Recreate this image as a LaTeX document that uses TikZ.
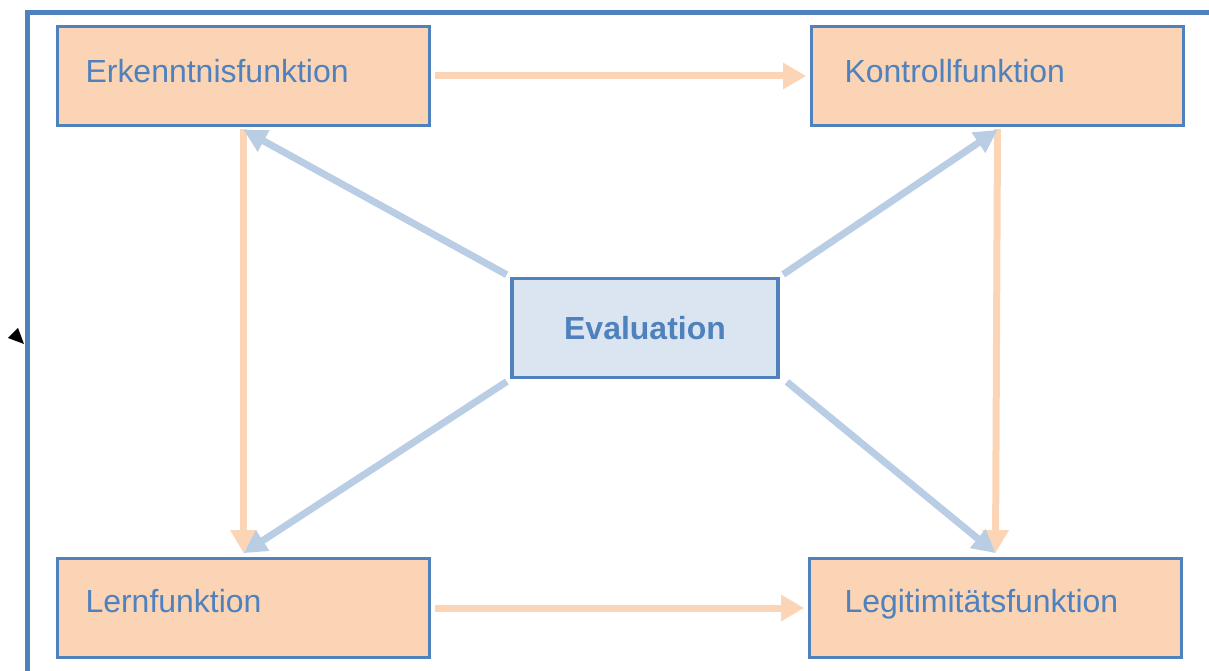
\documentclass[tikz,border=0pt]{standalone}
\usepackage{fontspec}
\setmainfont{Liberation Sans}
\usetikzlibrary{arrows.meta}
\definecolor{rahmen}{HTML}{4F81BD}
\definecolor{pfirsich}{HTML}{FAD4B4}
\definecolor{hellblau}{HTML}{DBE5F1}
\definecolor{pfeilblau}{HTML}{B9CDE5}
\definecolor{pfeilpfirsich}{HTML}{FBD5B5}
\begin{document}
\begin{tikzpicture}[x=0.02cm,y=-0.02cm,
    font=\fontsize{18.2}{21}\selectfont,
    fkt/.style={draw=rahmen,fill=pfirsich,line width=0.075cm,text=rahmen,
      minimum width=7.44cm,minimum height=1.98cm,text width=6.32cm,
      inner xsep=0.56cm,align=left,text height=0.46cm,text depth=0.28cm},
    mitte/.style={draw=rahmen,fill=hellblau,line width=0.075cm,text=rahmen,
      minimum width=5.32cm,minimum height=1.98cm,
      font=\fontsize{18.2}{21}\selectfont\bfseries},
    pfeilo/.style={draw=pfeilpfirsich,line width=0.14cm,
      -{Triangle[length=0.46cm,width=0.5cm]}},
    pfeilb/.style={draw=pfeilblau,line width=0.14cm,shorten <=0.08cm,
      -{Triangle[length=0.46cm,width=0.46cm]}}]
  \useasboundingbox (0,0) rectangle (1209,671);
  \draw[rahmen,line width=0.1cm] (27.5,671) -- (27.5,12.5) -- (1209,12.5);
  \fill (8,338) -- (18,328) -- (24,344) -- cycle;
  \draw
    (243.5,76) node[fkt,text depth=0.2cm] (erk){Erkenntnisfunktion}
    (997.5,76) node[fkt,text depth=0.2cm,text width=6.12cm,inner xsep=0.66cm] (kon){Kontrollfunktion}
    (243.5,608) node[fkt] (lern){Lernfunktion}
    (995.5,608) node[fkt,text width=6.04cm,inner xsep=0.7cm] (leg){Legitimitätsfunktion}
    (645,328) node[mitte] (eval){Evaluation};
  \begin{scope}[pfeilo]
    \draw ([xshift=0.07cm]erk.east) to ([xshift=-0.07cm]kon.west);
    \draw ([xshift=0.07cm]lern.east) to ([xshift=-0.07cm]leg.west);
    \draw ([yshift=-0.03cm]erk.south) to ([yshift=0.07cm]lern.north);
    \draw ([yshift=-0.03cm]kon.south) to ([yshift=0.07cm]leg.north);
  \end{scope}
  \begin{scope}[pfeilb]
    \draw (eval.north west) to ([yshift=-0.05cm]erk.south);
    \draw (eval.north east) to ([yshift=-0.05cm]kon.south);
    \draw (eval.south west) to ([yshift=0.07cm]lern.north);
    \draw ([xshift=0.08cm]eval.south east) to ([yshift=0.07cm]leg.north);
  \end{scope}
\end{tikzpicture}
\end{document}
